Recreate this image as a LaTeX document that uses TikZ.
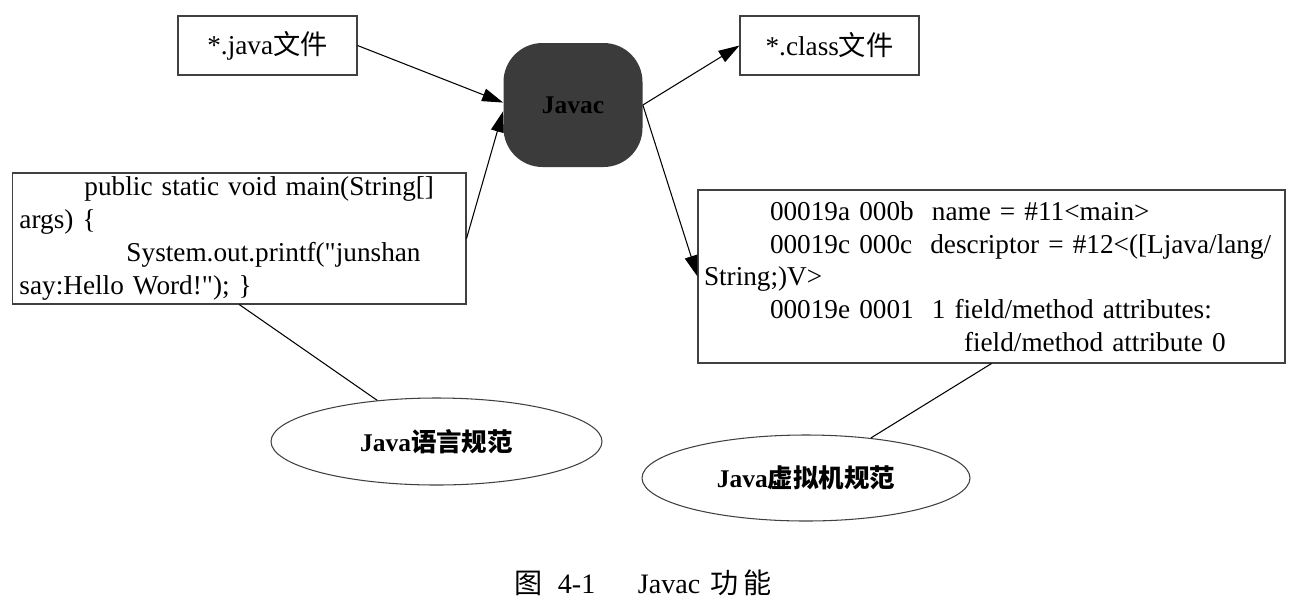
\documentclass[tikz,border=0pt]{standalone}
\usepackage{fontspec}
\setmainfont{Liberation Serif}
\newfontfamily\cjk{Noto Sans CJK SC}
\usetikzlibrary{arrows.meta,shapes.geometric}

\begin{document}
\begin{tikzpicture}[
			>={Triangle[length=0.42cm,width=0.26cm]},
			filebox/.style={draw=black!75, line width=0.6pt, minimum width=3.58cm, minimum height=1.18cm, inner sep=0pt, font=\fontsize{15.5}{18}\selectfont},
			codebox/.style={draw=black!75, line width=0.6pt, align=left, inner ysep=0pt, font=\fontsize{15.5}{18.6}\selectfont},
			tool/.style={rectangle, fill=black!77, minimum width=2.78cm, minimum height=2.48cm, rounded corners=0.78cm, font=\fontsize{14.5}{16}\selectfont\bfseries},
			spec/.style={ellipse, draw=black!75, line width=0.6pt, inner sep=0pt, font=\fontsize{14.5}{17}\selectfont\bfseries},
			conn/.style={->, line width=0.6pt},
			link/.style={line width=0.6pt}
			]
			% 画布大小
			\useasboundingbox (0,0) rectangle (26.06,-12.14);
			
			% 输入、编译器、输出
			\node[filebox] (java) at (5.35,-0.91) {*.java{\cjk 文件}};
			\node[tool] (javac) at (11.46,-2.10) {Javac};
			\node[filebox] (class) at (16.59,-0.91) {*.class{\cjk 文件}};
			
			% 源代码
			\node[codebox, text width=8.79cm, inner xsep=0.14cm, minimum height=2.62cm] (code) at (4.785,-4.77)
			{\hspace*{1.3cm}public static void main(String[]\\
			 args) \{\\
			 \hspace*{2.14cm}System.out.printf(\textquotedbl junshan\\
			 say:Hello Word!\textquotedbl); \}};
			
			% 字节码
			\node[codebox, text width=11.50cm, inner xsep=0.12cm, minimum height=3.46cm] (bytes) at (19.83,-5.53)
			{\hspace*{1.32cm}00019a 000b\ \ name = \#11<main>\\
			 \hspace*{1.32cm}00019c 000c\ \ descriptor = \#12<([Ljava/lang/\\
			 String;)V>\\
			 \hspace*{1.32cm}00019e 0001\ \ 1 field/method attributes:\\
			 \hspace*{5.2cm}field/method attribute 0};
			
			% 规范
			\node[spec, minimum width=6.62cm, minimum height=1.74cm] (lang) at (8.73,-8.83) {Java{\cjk\bfseries 语言规范}};
			\node[spec, minimum width=6.56cm, minimum height=1.72cm] (jvm) at (16.12,-9.56) {Java{\cjk\bfseries 虚拟机规范}};
			
			% 连线
			\draw[conn] (java.east) -- (javac.178);
			\draw[conn] (code.east) -- (javac.185);
			\draw[conn] (javac.east) -- (class.west);
			\draw[conn] (javac.east) -- (bytes.west);
			\draw[link] (code.south) -- (lang);
			\draw[link] (bytes.south) -- (jvm);
			
			% 图题
			\node[font=\fontsize{16}{19}\selectfont] (cap) at (12.86,-11.66) {{\cjk 图}\hspace{0.3cm}4-1\hspace{0.85cm}Javac\hspace{0.2cm}{\cjk 功\,能}};
			
		\end{tikzpicture}
\end{document}
